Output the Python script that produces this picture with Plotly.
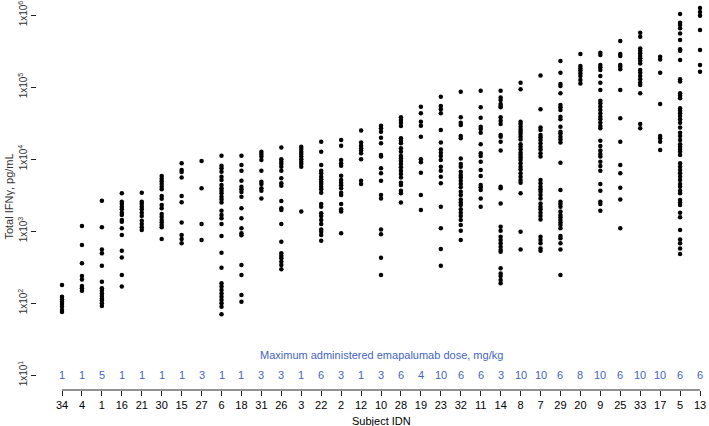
import plotly.graph_objects as go

# subject IDN, in plotted order
subjects = ["34", "4", "1", "16", "21", "30", "15", "27", "6", "18", "31", "26", "3",
            "22", "2", "12", "10", "28", "19", "23", "32", "11", "14", "8", "7", "29",
            "20", "9", "25", "33", "17", "5", "13"]

# maximum administered emapalumab dose, mg/kg
doses = [1, 1, 5, 1, 1, 1, 1, 3, 1, 1, 3, 3, 1, 6, 3, 1, 3, 6, 4, 10, 6, 6, 3, 10,
         10, 6, 8, 10, 6, 10, 10, 6, 6]

# total IFNγ, pg/mL (one list per subject, same order as subjects)
ifng = [
    [178, 122, 112, 104, 97, 89, 80, 75],
    [1170, 640, 356, 237, 213, 172, 160, 148],
    [2640, 1125, 556, 490, 330, 198, 160, 148, 136, 125, 116, 108, 99, 91],
    [3340, 2550, 2370, 2180, 2000, 1800, 1670, 1420, 1350, 1090, 880, 533, 430, 245, 169],
    [3400, 2550, 2370, 2180, 2000, 1800, 1620, 1390, 1250, 1125, 1030],
    [5800, 5330, 4900, 4500, 4130, 3800, 3060, 2810, 2300, 2070, 1720, 1580, 1420,
     1310, 1210, 1125, 774],
    [8710, 7030, 6600, 5560, 3060, 2500, 1310, 880, 774, 675],
    [9380, 3920, 1250, 750],
    [11100, 8070, 7420, 6670, 5690, 5110, 4350, 3920, 3630, 3340, 3000, 2750, 2480,
     1920, 1670, 1500, 1250, 853, 500, 310, 188, 169, 152, 136, 122, 110, 99, 89, 70],
    [11100, 8250, 6890, 5000, 4130, 3800, 3480, 3000, 2070, 1500, 1090, 929, 871,
     337, 245, 129, 104],
    [12600, 11700, 10800, 9680, 6890, 4840, 4500, 3920, 3630, 2840],
    [14400, 9890, 9180, 8530, 7830, 6890, 5390, 4590, 4260, 2610, 2070, 1960, 1250,
     711, 490, 450, 417, 375, 337, 294],
    [14800, 13800, 12600, 11700, 10800, 9890, 9180, 8530, 7830, 1860],
    [17400, 12600, 8250, 6890, 6320, 5690, 5220, 4840, 4500, 4130, 3800, 3400, 2370,
     2180, 1760, 1620, 1420, 1250, 1050, 980, 880, 734],
    [18400, 15300, 9680, 8710, 8070, 5870, 5110, 4690, 4310, 3920, 3400, 3160, 2370,
     2000, 1860, 929],
    [24800, 16900, 15300, 14100, 13100, 12000, 9890, 5000, 4500],
    [29000, 26700, 24000, 19800, 16500, 11400, 10800, 7420, 6320, 5000, 3160, 2840,
     1050, 900, 427, 245],
    [37900, 34800, 32000, 28700, 19400, 18000, 16500, 14100, 12600, 11000, 10200,
     9380, 8530, 7660, 6890, 6190, 5560, 4690, 4350, 3630, 3340, 2480],
    [53300, 43100, 33000, 29000, 20400, 9890, 8990, 6460, 3160, 1960],
    [73500, 54500, 49000, 43100, 25300, 16900, 13600, 12200, 11000, 9680, 7830, 6890,
     5690, 4590, 2180, 1090, 562, 330],
    [86100, 37900, 32000, 29700, 20800, 19400, 10200, 8530, 7830, 6670, 6000, 5560,
     5000, 4500, 4040, 3520, 3160, 2750, 2480, 2300, 2000, 1800, 1620, 1420, 1210,
     1010, 750],
    [89000, 52200, 37500, 28100, 26100, 23200, 16100, 12000, 11000, 9180, 7030, 5810,
     4350, 4040, 3710, 2840, 2180],
    [89000, 71800, 65900, 58100, 54500, 52200, 37900, 34000, 30600, 21500, 20400,
     17400, 13100, 4130, 3920, 2420, 1150, 1010, 834, 750, 675, 606, 545, 516, 303,
     258, 237, 208, 188],
    [115000, 92900, 33000, 30600, 28100, 25800, 24000, 22200, 20400, 18700, 16100,
     14800, 13600, 12200, 11400, 10500, 9680, 8710, 7830, 7180, 6320, 5690, 5110,
     4690, 3340, 980, 556],
    [144000, 49000, 27500, 25300, 21500, 20000, 18400, 16500, 14800, 13600, 12000,
     10800, 5110, 4590, 4130, 3800, 3520, 3160, 2840, 2420, 2180, 2000, 1800, 1620,
     1450, 834, 750, 675, 574, 533],
    [230000, 158000, 110000, 103000, 81700, 56200, 52200, 48000, 38700, 35600, 28100,
     24000, 22700, 20400, 18700, 16900, 8890, 3710, 2550, 2370, 2180, 1860, 1670,
     1550, 1420, 1310, 1210, 1090, 853, 791, 675, 556, 245],
    [287000, 196000, 182000, 169000, 155000, 142000, 125000, 112000],
    [300000, 278000, 202000, 188000, 172000, 142000, 115000, 90800, 64600, 59300,
     53300, 48000, 43100, 38700, 35600, 32000, 28700, 26700, 18000, 15200, 13100,
     11700, 10800, 9180, 8000, 6890, 4500, 3630, 2550, 2370, 1920],
    [436000, 287000, 270000, 202000, 192000, 176000, 90800, 36700, 17400, 8250, 6320,
     4000, 2750, 1090],
    [569000, 500000, 344000, 320000, 294000, 270000, 250000, 232000, 213000, 172000,
     158000, 142000, 128000, 115000, 107000, 81700, 30600, 26700],
    [264000, 242000, 158000, 58100, 20800, 19400, 17400, 13300],
    [1030000, 784000, 727000, 653000, 556000, 450000, 334000, 320000, 237000, 128000,
     119000, 81700, 75900, 69700, 50600, 46900, 43100, 39500, 35600, 32000, 27500,
     23200, 20800, 18400, 16100, 14800, 13800, 12600, 11400, 8710, 7830, 7030, 6320,
     5690, 5110, 4500, 4130, 3630, 3340, 2700, 2480, 2300, 1800, 1550, 1030, 765, 675,
     574, 480],
    [1250000, 1100000, 980000, 619000, 327000, 202000, 163000],
]

y_ticks = [1e1, 1e2, 1e3, 1e4, 1e5, 1e6]
y_ticktext = ["1x10<sup>%d</sup>" % k for k in range(1, 7)]

FONT = "Liberation Sans, Arial, sans-serif"
BLUE = "#4464c2"
AXIS = "#222222"

xs, ys = [], []
for s, vals in zip(subjects, ifng):
    xs += [s] * len(vals)
    ys += vals

fig = go.Figure()
fig.add_trace(go.Scatter(x=xs, y=ys, mode="markers",
                         marker=dict(color="black", size=4.5), cliponaxis=False,
                         showlegend=False, hoverinfo="x+y"))

# dose row along the bottom (x given as category index)
for i, d in enumerate(doses):
    fig.add_annotation(x=i, y=1, text=str(d), showarrow=False,
                       font=dict(size=11, color=BLUE, family=FONT))
fig.add_annotation(x=16, y=1.28, text="Maximum administered emapalumab dose, mg/kg",
                   showarrow=False, font=dict(size=11, color=BLUE, family=FONT))

fig.add_annotation(x=16, xref="x", y=-0.08, yref="paper", yanchor="middle",
                   text="Subject IDN", showarrow=False,
                   font=dict(size=11, color="black", family=FONT))
fig.add_annotation(x=-0.043, xref="paper", xanchor="center", y=0.5, yref="paper",
                   yanchor="middle", textangle=-90,
                   text="Total IFNγ, pg/mL", showarrow=False,
                   font=dict(size=11, color="#333333", family=FONT))

# R-style axis lines that stop at the outer ticks
fig.add_shape(type="line", xref="paper", x0=0, x1=0, yref="y", y0=1, y1=6,
              line=dict(color=AXIS, width=1))
fig.add_shape(type="line", xref="x", x0=0, x1=len(subjects) - 1, yref="paper", y0=0, y1=0,
              line=dict(color=AXIS, width=1))

fig.update_xaxes(type="category", categoryorder="array", categoryarray=subjects,
                 range=[-1.254, 32.45], automargin=False,
                 showgrid=False, zeroline=False, showline=False,
                 ticks="outside", ticklen=5, tickcolor=AXIS,
                 tickfont=dict(size=11, color="black", family=FONT))
fig.update_yaxes(type="log", range=[0.792, 6.167], automargin=False,
                 showgrid=False, zeroline=False,
                 showline=False, tickvals=y_ticks, ticktext=y_ticktext, tickangle=-90,
                 ticks="outside", ticklen=5, tickcolor=AXIS,
                 tickfont=dict(size=10, color="#333333", family=FONT))

fig.update_layout(width=709, height=426, margin=dict(l=37, r=0, t=3, b=36),
                  plot_bgcolor="white", paper_bgcolor="white",
                  font=dict(family=FONT))

fig.write_html("out.html", config={"displayModeBar": False},
               post_script="document.body.style.margin='0';document.body.style.padding='0';")
